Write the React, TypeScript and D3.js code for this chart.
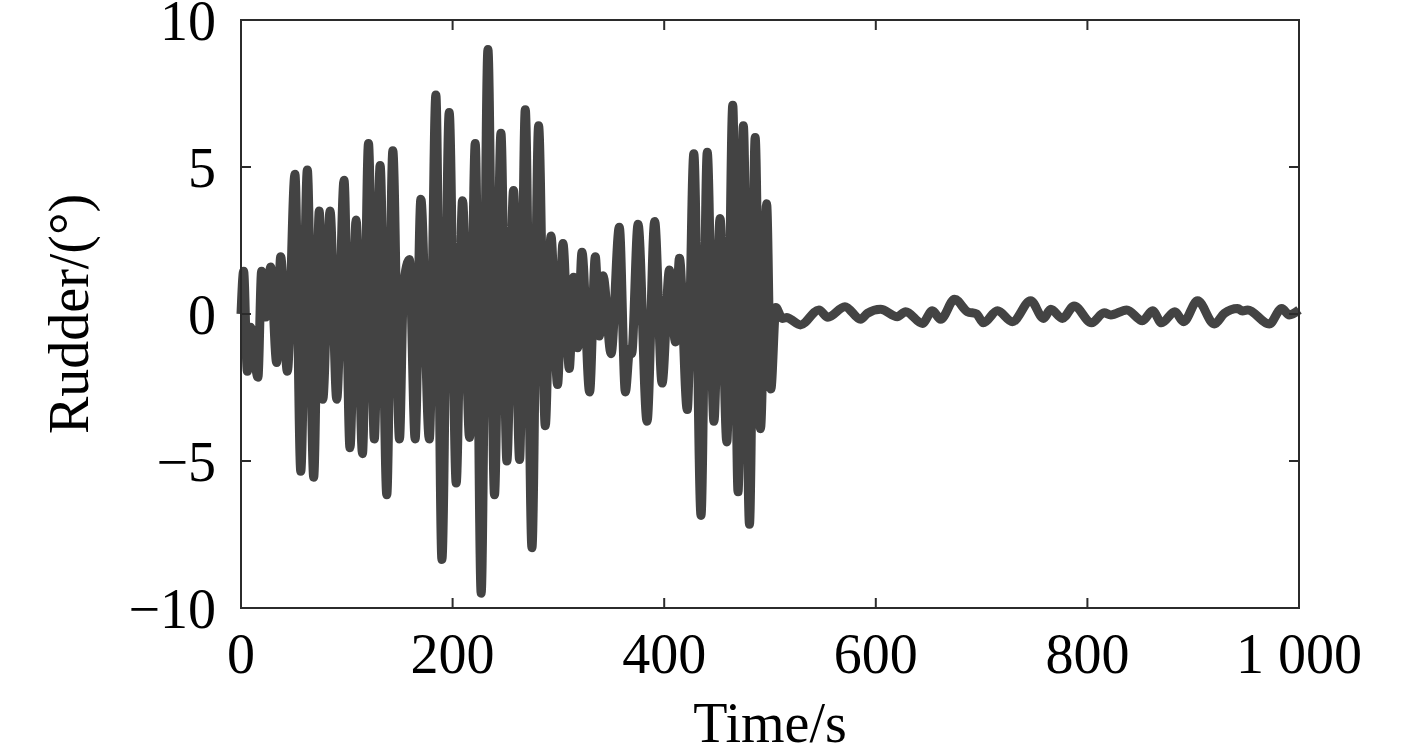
import React from "react";
import * as d3 from "d3";

const times: number[] = [
  0, 2.5, 6, 9, 16, 19.5, 23.6, 28, 33.7, 37.5, 43.8, 51, 56.5, 62.7, 68.7, 74, 77.3, 84.2, 90.5, 97.4,
  103, 108.8, 114.8, 120.5, 126, 131.5, 137.8, 143.5, 149.8, 153.6, 159.2, 164.6, 170, 178, 184.2, 189.9,
  196.8, 203.4, 209.4, 216, 221.4, 227, 233.4, 239.6, 245.7, 251.3, 257.6, 263.3, 268.7, 275, 281.3,
  287.6, 293, 299.2, 304.3, 310.3, 314.4, 318.2, 322.3, 329.5, 334.9, 338.7, 342.2, 349.8, 357.6, 363.3,
  367.4, 369.2, 375.3, 383.8, 391, 398, 405, 410.6, 414.4, 421.8, 428, 434.8, 440.7, 447, 452.8, 459.2,
  464.8, 469.8, 474.8, 480.6, 486, 491, 496.8, 500.8, 505.5,
  511.5, 516, 519.4, 528.8, 546.2, 554.7, 570.8, 585.6, 592, 604.5, 620.3, 628.2, 644, 653.4, 661.3,
  674.5, 686.6, 695.3, 701.7, 715, 729.1, 746.4, 758.5, 765.4, 776.4, 787.4, 803.9, 815.8, 822.1, 837.2,
  852.1, 861.6, 870.1, 882.7, 890.9, 904.2, 919.9, 929.4, 942, 946.5, 951.5, 971.9, 983.7, 990.8, 1000,
];

const rudder: number[] = [
  0, 1.45, -1.95, -0.45, -2.15, 1.45, -0.1, 1.6, -1.65, 1.95, -1.95, 4.75, -5.35, 4.9, -5.55, 3.5, -2.9, 3.5,
  -2.9, 4.55, -4.55, 3.2, -4.75, 5.8, -4.25, 5.05, -6.15, 5.55, -4.25, 0.95, 1.85, -4.25, 3.9, -4.25, 7.45, -8.35,
  6.85, -5.75, 3.85, -4.2, 5.8, -9.5, 9.0, -6.15, 6.15, -5.0, 4.2, -4.95, 6.95, -7.95, 6.4,
  -3.8, 2.65, -2.4, 2.4, -1.85, 1.25, -1.15, 2.1, -2.65, 1.95, -0.75, 1.3, -1.35, 2.95, -2.65,
  -1.2, -1.35, 3.05, -3.65, 3.15, -2.35, 1.5, -0.95, 1.9, -3.25, 5.45, -6.85, 5.5, -3.65, 3.25, -4.35,
  7.1, -6.05, 6.4, -7.15, 6.0, -3.9, 3.75, -2.55, 0.22,
  -0.15, -0.12, -0.18, -0.37, 0.14, -0.11, 0.25, -0.18, 0.02, 0.16, -0.09, 0.08, -0.32, 0.11, -0.18,
  0.5, 0.08, 0.0, -0.3, 0.11, -0.26, 0.45, -0.15, 0.16, -0.15, 0.27, -0.3, 0.04, -0.03, 0.14,
  -0.23, 0.11, -0.3, 0.08, -0.26, 0.45, -0.34, 0.02, 0.19, 0.1, 0.14, -0.34, 0.19, -0.03, 0.14,
];

const xTicks: number[] = [0, 200, 400, 600, 800, 1000];
const xTickLabels: string[] = ["0", "200", "400", "600", "800", "1 000"];
const yTicks: number[] = [-10, -5, 0, 5, 10];
const yTickLabels: string[] = ["\u221210", "\u22125", "0", "5", "10"];

export default function App() {
  const W = 1417;
  const H = 748;
  const left = 241;
  const right = 1299;
  const top = 20;
  const bottom = 608;
  const x = d3.scaleLinear().domain([0, 1000]).range([left, right]);
  const y = d3.scaleLinear().domain([-10, 10]).range([bottom, top]);
  const data = times.map((t, i) => [t, rudder[i]] as [number, number]);
  const line = d3
    .line<[number, number]>()
    .x((d) => x(d[0]))
    .y((d) => y(d[1]))
    .curve(d3.curveMonotoneX);
  const font = "'Liberation Serif', 'Times New Roman', serif";
  const tickLen = 10;
  const axisColor = "#2b2b2b";
  return (
    <svg
      width={W}
      height={H}
      style={{ position: "absolute", left: 0, top: 0, background: "#fff" }}
    >
      <path d={line(data) || ""} fill="none" stroke="#434343" strokeWidth={9} strokeLinejoin="round" />
      <rect x={left} y={top} width={right - left} height={bottom - top} fill="none" stroke={axisColor} strokeWidth={2} />
      {xTicks.map((t, i) => (
        <g key={"x" + t}>
          <line x1={x(t)} x2={x(t)} y1={bottom} y2={bottom - tickLen} stroke={axisColor} strokeWidth={2} />
          <line x1={x(t)} x2={x(t)} y1={top} y2={top + tickLen} stroke={axisColor} strokeWidth={2} />
          <text x={x(t)} y={673} textAnchor="middle" fontFamily={font} fontSize={56} fill="#000">
            {xTickLabels[i]}
          </text>
        </g>
      ))}
      {yTicks.map((t, i) => (
        <g key={"y" + t}>
          <line x1={left} x2={left + tickLen} y1={y(t)} y2={y(t)} stroke={axisColor} strokeWidth={2} />
          <line x1={right} x2={right - tickLen} y1={y(t)} y2={y(t)} stroke={axisColor} strokeWidth={2} />
          <text x={216} y={y(t) + 20} textAnchor="end" fontFamily={font} fontSize={56} fill="#000">
            {yTickLabels[i]}
          </text>
        </g>
      ))}
      <text x={(left + right) / 2} y={742} textAnchor="middle" fontFamily={font} fontSize={56} fill="#000">
        Time/s
      </text>
      <text
        transform={`translate(88, ${(top + bottom) / 2}) rotate(-90)`}
        textAnchor="middle"
        fontFamily={font}
        fontSize={56}
        fill="#000"
      >
        Rudder/(°)
      </text>
    </svg>
  );
}
